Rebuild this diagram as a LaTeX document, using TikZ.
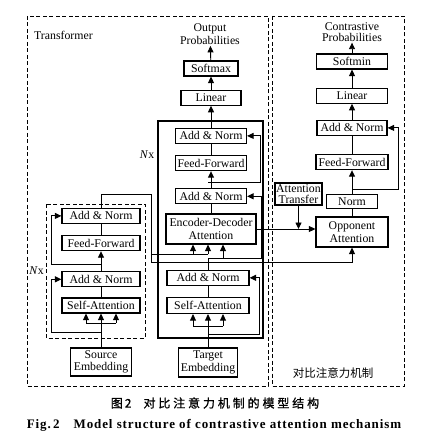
\documentclass[tikz,border=0pt]{standalone}
\usepackage{fontspec}
\setmainfont{Liberation Serif}
\newfontfamily\cjk{Noto Sans CJK SC}
\newfontfamily\cjkcap[FakeBold=1,LetterSpace=24]{Noto Sans CJK SC}
\newfontfamily\capfont[LetterSpace=7]{Liberation Serif}
\usetikzlibrary{arrows.meta, positioning, calc}

\begin{document}
\begin{tikzpicture}[
    x=1pt, y=-1pt,
    block/.style={
        draw, line width=1.2pt, inner sep=1pt,
        minimum height=15pt, align=center,
        font=\fontsize{11.8}{12.5}\selectfont
    },
    tag/.style={inner sep=1pt, align=center, font=\fontsize{11.8}{13.5}\selectfont},
    link/.style={line width=0.9pt},
    arrow/.style={-{Triangle[length=6.5pt,width=6pt]}, line width=0.9pt},
    frame/.style={dashed, dash pattern=on 4pt off 2.5pt, line width=0.9pt}
]
\useasboundingbox (0,0) rectangle (423,446);

% Frames
\draw[frame] (27,16) rectangle (268,386);
\draw[frame] (272,16) rectangle (404,386);
\draw[frame] (46,204) rectangle (145,338);
\draw[line width=1.2pt] (158,121) rectangle (263,338);

% Encoder
\node[block, minimum width=78pt] (encSA) at (101,305.5) {Self-Attention};
\node[block, minimum width=78pt, above=10pt of encSA] (encAN1) {Add \& Norm};
\node[block, minimum width=78pt, above=20pt of encAN1] (encFF) {Feed-Forward};
\node[block, minimum width=78pt, above=11pt of encFF] (encAN2) {Add \& Norm};
\node[block, minimum width=61pt, minimum height=28pt] (srcEmb) at (101,362) {Source\\Embedding};

% Decoder
\node[block, minimum width=82pt, minimum height=16pt] (decSA) at (208,305.5) {Self-Attention};
\node[block, minimum width=82pt, above=11pt of decSA] (decAN1) {Add \& Norm};
\node[block, minimum width=90pt, minimum height=30pt] (decED) at (211,229) {Encoder-Decoder\\Attention};
\node[block, minimum width=71pt, above=9pt of decED] (decAN2) {Add \& Norm};
\node[block, minimum width=71pt, above=17pt of decAN2] (decFF) {Feed-Forward};
\node[block, minimum width=71pt, above=11pt of decFF] (decAN3) {Add \& Norm};
\node[block, minimum width=60pt, above=22pt of decAN3] (decLin) {Linear};
\node[block, minimum width=54pt, above=13pt of decLin] (softmax) {Softmax};
\node[tag] (outProb) at (210,34) {Output\\Probabilities};
\node[block, minimum width=59pt, minimum height=29pt] (tgtEmb) at (208,362.5) {Target\\Embedding};

% Contrastive attention
\node[block, minimum width=72pt, minimum height=30pt] (oppAtt) at (352,232) {Opponent\\Attention};
\node[block, minimum width=51pt, minimum height=14pt, above=7pt of oppAtt] (norm) {Norm};
\node[block, minimum width=72pt, above=24pt of norm] (conFF) {Feed-Forward};
\node[block, minimum width=70pt, above=18pt of conFF] (conAN) {Add \& Norm};
\node[block, minimum width=71pt, above=16pt of conAN] (conLin) {Linear};
\node[block, minimum width=71pt, above=18pt of conLin] (softmin) {Softmin};
\node[tag, font=\fontsize{11.8}{11}\selectfont] (conProb) at (352,32) {Contrastive\\Probabilities};
\node[block, minimum width=47pt, minimum height=22pt, font=\fontsize{11.8}{11}\selectfont] (attTrans) at (298.5,194) {Attention\\Transfer};

% Labels
\node[tag, anchor=west] (tfLabel) at (33,35) {Transformer};
\node[tag] (encN) at (36.5,271) {\textit{N}x};
\node[tag] (decN) at (147,155) {\textit{N}x};
\node[tag, font=\cjk\fontsize{11.5}{12}\selectfont] (camLabel) at (333,373) {对比注意力机制};
\node[tag, font=\cjkcap\fontsize{12}{13}\selectfont] (capCN) at (215,403) {图\,2\hspace{12pt}对比注意力机制的模型结构};
\node[tag, font=\capfont\bfseries\fontsize{13}{14}\selectfont] (capEN) at (214,425) {Fig.\,2\hspace{14pt}Model structure of contrastive attention mechanism};

% Encoder connectors
\coordinate (encFork) at (101,323);
\coordinate (encRes1) at (101,332);
\coordinate (encRes2) at (101,264);
\coordinate (encTurn) at (151,194);
\coordinate (encBus) at (151,262);
\coordinate (kvBus) at (151,254);
\coordinate (edK) at (193,254);
\coordinate (edV) at (208,254);
\draw[link] (srcEmb.north) -- (encFork);
\draw[link] ([xshift=-15pt]encFork) -- ([xshift=15pt]encFork);
\foreach \dx in {-15,0,15}
    \draw[arrow] ([xshift=\dx pt]encFork) -- ([xshift=\dx pt]encFork |- encSA.south);
\draw[link] (encSA) -- (encAN1);
\draw[arrow] (encAN1.north) -- (encFF.south);
\draw[link] (encFF) -- (encAN2);
\draw[arrow] (encRes1) -| ([xshift=-10pt]encAN1.west) -- (encAN1.west);
\draw[arrow] (encRes2) -| ([xshift=-10pt]encAN2.west) -- (encAN2.west);
\draw[arrow] (encAN2.north) |- (encTurn) -- (encBus) -| (oppAtt.south);
\draw[link] (kvBus) -- (edV);
\draw[arrow] (edK) -- (edK |- decED.south);
\draw[arrow] (edV) -- (edV |- decED.south);

% Decoder connectors
\coordinate (decFork) at (208,326);
\coordinate (decRes1) at (208,334);
\coordinate (decQ) at (223,258);
\coordinate (decRes2) at (208,182);
\draw[link] (tgtEmb.north) -- (decFork);
\draw[link] ([xshift=-15pt]decFork) -- ([xshift=15pt]decFork);
\foreach \dx in {-15,0,15}
    \draw[arrow] ([xshift=\dx pt]decFork) -- ([xshift=\dx pt]decFork |- decSA.south);
\draw[link] (decSA) -- (decAN1);
\draw[arrow] (decRes1) -| ([xshift=10pt]decAN1.east) -- (decAN1.east);
\draw[link] (decAN1.north) |- (decQ);
\draw[arrow] (decQ) -- (decQ |- decED.south);
\draw[arrow] (decQ) -| ([xshift=14pt]decAN2.east) -- (decAN2.east);
\draw[link] (decED.north -| decAN2.south) -- (decAN2.south);
\draw[arrow] (decAN2.north) -- (decFF.south);
\draw[arrow] (decRes2) -| ([xshift=13pt]decAN3.east) -- (decAN3.east);
\draw[link] (decFF) -- (decAN3);
\draw[arrow] (decAN3.north) -- (decLin.south);
\draw[arrow] (decLin) -- (softmax);
\draw[arrow] (softmax) -- (outProb);

% Contrastive connectors
\coordinate (conRes) at (352,189);
\draw[arrow] (decED.east) -- (decED.east -| oppAtt.west);
\draw[arrow] (attTrans.south) -- (attTrans.south |- decED.east);
\draw[link] (oppAtt) -- (norm);
\draw[arrow] (norm) -- (conFF);
\draw[arrow] (conRes) -| ([xshift=11pt]conAN.east) -- (conAN.east);
\draw[link] (conFF) -- (conAN);
\draw[arrow] (conAN) -- (conLin);
\draw[arrow] (conLin) -- (softmin);
\draw[arrow] (softmin) -- (conProb);

\end{tikzpicture}
\end{document}
